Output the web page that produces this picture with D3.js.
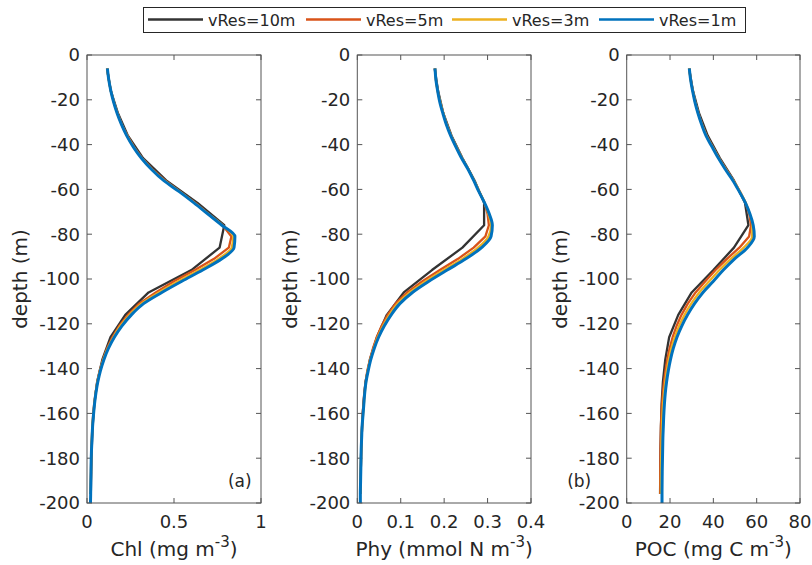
<!DOCTYPE html>
<html>
<head>
<meta charset="utf-8">
<script src="https://cdn.jsdelivr.net/npm/d3@7"></script>
<style>
  body { margin: 0; background: #fff; }
  text { font-family: "DejaVu Sans", sans-serif; fill: #262626; }
</style>
</head>
<body>
<section></section>
<script>
// depth grids (m)
const depth10 = [-6,-16,-26,-36,-46,-56,-66,-76,-86,-96,-106,-116,-126,-136,-146,-156,-166,-176,-186,-196];
const depth5 = [-6,-11,-16,-21,-26,-31,-36,-41,-46,-51,-56,-61,-66,-71,-76,-81,-86,-91,-96,-101,-106,-111,-116,-121,-126,-131,-136,-141,-146,-151,-156,-161,-166,-171,-176,-181,-186,-191,-196];
const depth1 = [-6,-11,-16,-21,-26,-31,-36,-41,-46,-51,-56,-61,-66,-71,-76,-81,-86,-91,-96,-101,-106,-111,-116,-121,-126,-131,-136,-141,-146,-151,-156,-161,-166,-171,-176,-181,-186,-191,-196,-200];

const seriesNames = ['vRes=10m', 'vRes=5m', 'vRes=3m', 'vRes=1m'];

// Chl (mg m-3)
const chl10 = [0.115,0.137,0.178,0.235,0.322,0.455,0.635,0.789,0.762,0.600,0.354,0.220,0.135,0.088,0.058,0.042,0.032,0.027,0.024,0.022];
const chl5 = [0.116,0.125,0.137,0.154,0.175,0.200,0.232,0.270,0.316,0.376,0.448,0.535,0.622,0.700,0.780,0.830,0.815,0.730,0.620,0.500,0.395,0.300,0.235,0.185,0.146,0.115,0.092,0.073,0.059,0.049,0.041,0.035,0.031,0.028,0.025,0.024,0.023,0.022,0.021];
const chl3 = [0.116,0.125,0.137,0.154,0.174,0.199,0.230,0.268,0.314,0.373,0.444,0.533,0.618,0.698,0.778,0.840,0.832,0.755,0.645,0.525,0.413,0.313,0.245,0.192,0.152,0.119,0.094,0.075,0.060,0.050,0.042,0.036,0.031,0.028,0.026,0.024,0.023,0.022,0.021];
const chl1 = [0.117,0.125,0.137,0.153,0.173,0.198,0.228,0.266,0.312,0.370,0.440,0.530,0.615,0.695,0.775,0.850,0.845,0.775,0.665,0.545,0.430,0.325,0.255,0.200,0.157,0.123,0.097,0.077,0.062,0.051,0.043,0.037,0.032,0.029,0.026,0.024,0.023,0.022,0.021,0.020];

// Phy (mmol N m-3)
const phy10 = [0.178,0.186,0.198,0.217,0.242,0.270,0.292,0.292,0.242,0.172,0.107,0.068,0.045,0.029,0.019,0.014,0.011,0.009,0.008,0.007];
const phy5 = [0.179,0.181,0.185,0.191,0.198,0.206,0.216,0.228,0.241,0.256,0.269,0.281,0.293,0.300,0.303,0.295,0.268,0.232,0.190,0.150,0.115,0.088,0.070,0.056,0.045,0.036,0.029,0.023,0.019,0.016,0.014,0.012,0.011,0.010,0.009,0.0085,0.008,0.0075,0.007];
const phy3 = [0.179,0.181,0.185,0.191,0.198,0.206,0.216,0.228,0.241,0.256,0.269,0.281,0.293,0.302,0.308,0.302,0.278,0.242,0.199,0.158,0.121,0.093,0.074,0.059,0.047,0.038,0.030,0.024,0.020,0.017,0.015,0.013,0.011,0.010,0.009,0.0085,0.008,0.0075,0.007];
const phy1 = [0.179,0.181,0.185,0.190,0.197,0.205,0.215,0.227,0.240,0.255,0.268,0.280,0.293,0.304,0.311,0.308,0.286,0.250,0.207,0.165,0.127,0.098,0.078,0.062,0.049,0.039,0.031,0.025,0.020,0.017,0.015,0.013,0.011,0.010,0.009,0.0085,0.008,0.0075,0.007,0.007];

// POC (mg C m-3)
const poc10 = [28.8,30.6,33.4,37.4,43.0,49.5,54.6,56.2,49.5,40.0,30.0,23.8,19.6,17.8,16.7,16.1,15.8,15.6,15.5,15.4];
const poc5 = [28.9,29.5,30.5,31.6,33.1,34.8,36.9,39.7,42.6,45.9,49.3,52.3,54.9,56.6,57.4,56.5,52.0,46.3,41.0,36.3,31.8,28.2,25.3,23.0,21.2,19.8,18.7,17.9,17.2,16.7,16.3,16.0,15.8,15.7,15.6,15.55,15.5,15.5,15.5];
const poc3 = [28.9,29.5,30.5,31.6,33.0,34.7,36.8,39.6,42.5,45.7,49.2,52.2,54.9,56.8,58.0,57.9,54.0,48.1,42.8,38.1,33.5,29.8,26.7,24.2,22.2,20.6,19.4,18.5,17.8,17.2,16.8,16.5,16.3,16.1,16.0,15.9,15.85,15.8,15.8];
const poc1 = [28.9,29.5,30.4,31.5,32.9,34.6,36.6,39.4,42.3,45.5,49.0,52.0,54.8,56.9,58.4,58.9,55.7,49.8,44.6,40.0,35.2,31.3,28.1,25.4,23.2,21.5,20.2,19.2,18.4,17.8,17.4,17.1,16.9,16.7,16.6,16.5,16.4,16.35,16.3,16.3];

const yTicks = [0,-20,-40,-60,-80,-100,-120,-140,-160,-180,-200];
const chlTicks = [0, 0.5, 1];
const phyTicks = [0, 0.1, 0.2, 0.3, 0.4];
const pocTicks = [0, 20, 40, 60, 80];

const colors = ['#333333', '#D95319', '#EDB120', '#0072BD'];
const widths = [2.3, 2.3, 2.3, 3];

let width = 812;
let height = 565;

let svg = d3.select('section')
  .append('svg')
  .attr('width', width)
  .attr('height', height);

let plotTop = 55, plotBottom = 503;

let panels = [
  { left: 87, right: 261, domain: [0, 1], ticks: chlTicks, fmt: d3.format('~g'),
    label: 'Chl (mg m', series: [chl10, chl5, chl3, chl1], tag: '(a)', tagX: 0.81 },
  { left: 357.3, right: 531, domain: [0, 0.4], ticks: phyTicks, fmt: d3.format('~g'),
    label: 'Phy (mmol N m', series: [phy10, phy5, phy3, phy1] },
  { left: 626.7, right: 800, domain: [0, 80], ticks: pocTicks, fmt: d3.format('~g'),
    label: 'POC (mg C m', series: [poc10, poc5, poc3, poc1], tag: '(b)', tagX: -27.5 }
];

let depths = [depth10, depth5, depth5, depth1];

let y = d3.scaleLinear().domain([0, -200]).range([plotTop, plotBottom]);

panels.forEach((p) => {
  let x = d3.scaleLinear().domain(p.domain).range([p.left, p.right]);
  let g = svg.append('g');

  // ticks, all sides, pointing inward
  let tl = 5;
  g.selectAll('.yt').data(yTicks).enter().append('path')
    .attr('d', (d) => `M${p.left},${y(d)}h${tl}M${p.right},${y(d)}h${-tl}`)
    .attr('stroke', '#555').attr('stroke-width', 1);
  g.selectAll('.xt').data(p.ticks).enter().append('path')
    .attr('d', (d) => `M${x(d)},${plotBottom}v${-tl}M${x(d)},${plotTop}v${tl}`)
    .attr('stroke', '#555').attr('stroke-width', 1);

  g.selectAll('.yl').data(yTicks).enter().append('text')
    .attr('x', p.left - 7)
    .attr('y', (d) => y(d))
    .attr('dy', '0.36em')
    .attr('text-anchor', 'end')
    .attr('font-size', 18)
    .text((d) => d === 0 ? '0' : '-' + Math.abs(d));

  g.selectAll('.xl').data(p.ticks).enter().append('text')
    .attr('x', (d) => x(d))
    .attr('y', plotBottom + 25)
    .attr('text-anchor', 'middle')
    .attr('font-size', 18)
    .text((d) => p.fmt(d));

  // lines
  p.series.forEach((vals, i) => {
    let line = d3.line()
      .x((d) => x(d[1]))
      .y((d) => y(d[0]))
      .curve(i >= 2 ? d3.curveMonotoneY : d3.curveLinear);
    g.append('path')
      .datum(d3.zip(depths[i], vals))
      .attr('d', line)
      .attr('fill', 'none')
      .attr('stroke', colors[i])
      .attr('stroke-width', widths[i])
      .attr('stroke-linejoin', 'round');
  });

  g.append('rect')
    .attr('x', p.left).attr('y', plotTop)
    .attr('width', p.right - p.left).attr('height', plotBottom - plotTop)
    .attr('fill', 'none').attr('stroke', '#555').attr('stroke-width', 1);

  // x label with superscript
  let xl = g.append('text')
    .attr('x', (p.left + p.right) / 2)
    .attr('y', 556)
    .attr('text-anchor', 'middle')
    .attr('font-size', 20);
  xl.append('tspan').text(p.label);
  xl.append('tspan').attr('dy', -9).attr('font-size', 15).text('-3');
  xl.append('tspan').attr('dy', 9).text(')');

  g.append('text')
    .attr('transform', `translate(${p.left - 60},${(plotTop + plotBottom) / 2}) rotate(-90)`)
    .attr('text-anchor', 'middle')
    .attr('font-size', 20)
    .text('depth (m)');

  if (p.tag) {
    g.append('text')
      .attr('x', x(p.tagX))
      .attr('y', y(-190))
      .attr('dy', '0.36em')
      .attr('font-size', 17)
      .text(p.tag);
  }
});

// legend
let legend = svg.append('g');
legend.append('rect')
  .attr('x', 143.5).attr('y', 7.5).attr('width', 602).attr('height', 25)
  .attr('fill', '#fff').attr('stroke', '#262626').attr('stroke-width', 1);
let legendX = [148, 306, 452, 599];
seriesNames.forEach((name, i) => {
  legend.append('line')
    .attr('x1', legendX[i]).attr('x2', legendX[i] + 55)
    .attr('y1', 19.5).attr('y2', 19.5)
    .attr('stroke', colors[i]).attr('stroke-width', 2.5);
  legend.append('text')
    .attr('x', legendX[i] + 60)
    .attr('y', 25.5)
    .attr('font-size', 16)
    .text(name);
});
</script>
</body>
</html>
